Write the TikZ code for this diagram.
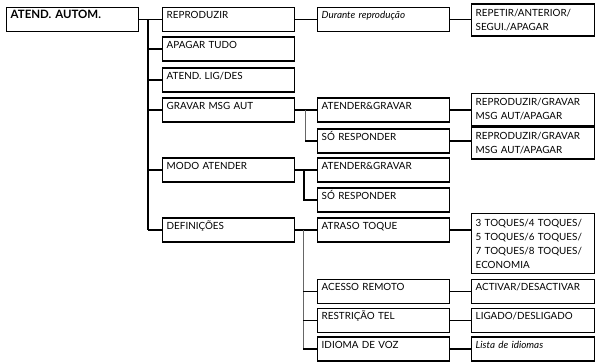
\documentclass[tikz,border=0pt]{standalone}
\usepackage{fontspec}
\setmainfont{Lato}
\usepackage{tikz}

\begin{document}
\begin{tikzpicture}
  [
    x=0.75pt, y=-0.75pt,
    % estilos das caixas e das ligacoes
    caixa/.style={draw, line width=1.1pt, anchor=west, align=left, text width=93pt,
      inner xsep=3pt, inner ysep=3.5pt, text height=5pt, text depth=6pt,
      font=\fontsize{7.4}{10.5}\selectfont},
    caixafim/.style={caixa, text width=86pt},
    caixadupla/.style={draw, line width=1.1pt, anchor=west, align=left, text width=86pt,
      inner xsep=3pt, inner ysep=4pt, font=\fontsize{7.4}{10.5}\selectfont},
    ligacao/.style={line width=1.1pt},
    ligacaofina/.style={line width=0.5pt, black!60}
  ]
  \useasboundingbox (0,0) rectangle (597,362);

  % coluna 1
  \node[caixa, font=\fontsize{8.6}{10.5}\selectfont\bfseries] (raiz) at (6,19.5) {ATEND. AUTOM.};

  % coluna 2
  \node[caixa] (reproduzir) at (162,19.5) {REPRODUZIR};
  \node[caixa] (apagar) at (162,49) {APAGAR TUDO};
  \node[caixa] (atendlig) at (162,80) {ATEND. LIG/DES};
  \node[caixa] (gravar) at (162,110) {GRAVAR MSG AUT};
  \node[caixa] (modo) at (162,170) {MODO ATENDER};
  \node[caixa] (definicoes) at (162,230) {DEFINIÇÕES};

  % coluna 3
  \node[caixa] (durante) at (317,19.5) {\itshape Durante reprodução};
  \node[caixa] (gravaratender) at (317,110) {ATENDER\&GRAVAR};
  \node[caixa] (gravarso) at (317,141) {SÓ RESPONDER};
  \node[caixa] (modoatender) at (317,170) {ATENDER\&GRAVAR};
  \node[caixa] (modoso) at (317,200) {SÓ RESPONDER};
  \node[caixa] (atraso) at (317,230) {ATRASO TOQUE};
  \node[caixa] (acesso) at (317,291.5) {ACESSO REMOTO};
  \node[caixa] (restricao) at (317,320.5) {RESTRIÇÃO TEL};
  \node[caixa] (idioma) at (317,349) {IDIOMA DE VOZ};

  % coluna 4
  \node[caixadupla] (repetir) at (471,20) {REPETIR/ANTERIOR/\\SEGUI./APAGAR};
  \node[caixadupla] (opcoes1) at (471,109.5) {REPRODUZIR/GRAVAR\\MSG AUT/APAGAR};
  \node[caixadupla] (opcoes2) at (471,143) {REPRODUZIR/GRAVAR\\MSG AUT/APAGAR};
  \node[caixadupla, anchor=north west] (toques) at (471,213) {3 TOQUES/4 TOQUES/\\5 TOQUES/6 TOQUES/\\7 TOQUES/8 TOQUES/\\ECONOMIA};
  \node[caixafim] (activar) at (471,291.5) {ACTIVAR/DESACTIVAR};
  \node[caixafim] (ligado) at (471,320.5) {LIGADO/DESLIGADO};
  \node[caixafim] (lista) at (471,349) {\itshape Lista de idiomas};

  % tronco principal
  \coordinate (tronco) at (148,19.5);
  \draw[ligacao] (raiz.east) -- (reproduzir.west);
  \draw[ligacao] (tronco) -- (tronco |- definicoes.west);
  \draw[ligacao] (tronco |- apagar.west) -- (apagar.west);
  \draw[ligacao] (tronco |- atendlig.west) -- (atendlig.west);
  \draw[ligacao] (tronco |- gravar.west) -- (gravar.west);
  \draw[ligacao] (tronco |- modo.west) -- (modo.west);
  \draw[ligacao] (tronco |- definicoes.west) -- (definicoes.west);

  % reproduzir
  \draw[ligacao] (reproduzir.east) -- (durante.west);
  \draw[ligacao] (durante.east) -- (durante.east -| repetir.west);

  % gravar msg aut
  \coordinate (jgravar) at (305,110);
  \draw[ligacao] (gravar.east) -- (gravaratender.west);
  \draw[ligacaofina] (jgravar) -- (jgravar |- gravarso.west);
  \draw[ligacao] (jgravar |- gravarso.west) -- (gravarso.west);
  \draw[ligacao] (gravaratender.east) -- (gravaratender.east -| opcoes1.west);
  \draw[ligacao] (gravarso.east) -- (gravarso.east -| opcoes2.west);

  % modo atender
  \coordinate (jmodo) at (304,170);
  \draw[ligacao] (modo.east) -- (modoatender.west);
  \draw[ligacao] (jmodo) |- (modoso.west);

  % definicoes
  \coordinate (jdef) at (303,230);
  \draw[ligacao] (definicoes.east) -- (atraso.west);
  \draw[ligacaofina] (jdef) -- (jdef |- idioma.west);
  \draw[ligacao] (jdef |- acesso.west) -- (acesso.west);
  \draw[ligacao] (jdef |- restricao.west) -- (restricao.west);
  \draw[ligacao] (jdef |- idioma.west) -- (idioma.west);
  \draw[ligacao] (atraso.east) -- (atraso.east -| toques.west);
  \draw[ligacao] (acesso.east) -- (activar.west);
  \draw[ligacao] (restricao.east) -- (ligado.west);
  \draw[ligacao] (idioma.east) -- (lista.west);

\end{tikzpicture}
\end{document}
